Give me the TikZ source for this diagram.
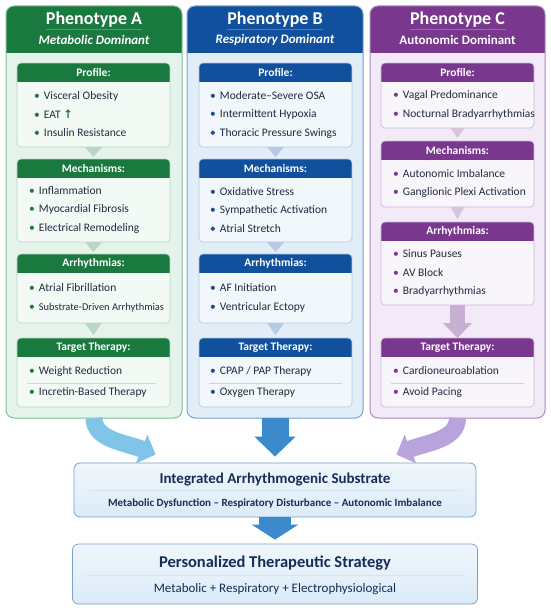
\documentclass[tikz,border=0pt]{standalone}
\usepackage{fontspec}
\setmainfont{Carlito}
\newfontfamily\symfont{DejaVu Sans}
\usetikzlibrary{arrows.meta,positioning}

\definecolor{grnA}{RGB}{26,121,62}
\definecolor{grnAbg}{RGB}{229,243,234}
\definecolor{grnAln}{RGB}{128,192,150}
\definecolor{bluB}{RGB}{17,80,156}
\definecolor{bluBbg}{RGB}{226,237,248}
\definecolor{bluBln}{RGB}{118,162,210}
\definecolor{purC}{RGB}{121,56,142}
\definecolor{purCbg}{RGB}{242,234,246}
\definecolor{purCln}{RGB}{172,134,192}
\definecolor{ink}{RGB}{33,42,62}
\definecolor{navy}{RGB}{24,44,88}
\definecolor{boxbl}{RGB}{220,235,248}
\definecolor{boxln}{RGB}{122,162,202}
\definecolor{arwA}{RGB}{128,196,232}
\definecolor{arwB}{RGB}{58,138,204}
\definecolor{arwC}{RGB}{184,164,218}

\newcommand{\bul}[1]{{\color{#1}\textbullet}\hspace{4pt}}

\begin{document}
\begin{tikzpicture}[x=1pt,y=-1pt,>=Stealth,
 panel/.style={draw=#1ln,fill=#1bg,rounded corners=8pt,line width=1pt,minimum width=176pt,minimum height=412pt,inner sep=0pt,outer sep=0pt,
  path picture={\fill[#1,sharp corners] (path picture bounding box.north west) rectangle ([yshift=-47pt]path picture bounding box.north east);}},
 sec/.style={draw=#1ln!60,fill=white!55!#1bg,rounded corners=4pt,line width=0.6pt,minimum width=153pt,inner sep=0pt,outer sep=0pt,
  path picture={\fill[#1,sharp corners] (path picture bounding box.north west) rectangle ([yshift=-19pt]path picture bounding box.north east);}},
 ttl/.style={font=\bfseries\fontsize{18}{20}\selectfont,text=white,inner sep=1pt},
 sub/.style={font=\bfseries\fontsize{13}{15}\selectfont,text=white,inner sep=1pt},
 hd/.style={font=\bfseries\fontsize{11.5}{13}\selectfont,text=white,inner sep=1pt},
 it/.style={font=\fontsize{11.5}{18.5}\selectfont,text=ink,align=left,anchor=west,inner sep=0pt},
 sepl/.style={draw=#1ln!45,line width=0.6pt},
 bigbox/.style={draw=boxln,top color=boxbl!45,bottom color=boxbl,rounded corners=6pt,line width=0.8pt,inner sep=0pt},
 btl/.style={font=\bfseries\fontsize{15}{17}\selectfont,text=navy,inner sep=1pt},
 fat/.style={-{Triangle[#1]},line cap=butt}]
 \fill[white] (0,0) rectangle (550,610);
 \useasboundingbox (0,0) rectangle (550,610);

 % phenotype A
 \node[panel=grnA] (pA) at (94,212) {};
 \node[ttl] (tA) at (94,20) {Phenotype A};
 \node[sub] (sA) at (94,39.5) {\itshape Metabolic Dominant};
 \draw[white,opacity=.25] ([xshift=-48pt,yshift=-23pt]pA.north) -- ([xshift=48pt,yshift=-23pt]pA.north);
 \node[sec=grnA,minimum height=84pt] (aP) at (93.5,105) {};
 \node[sec=grnA,minimum height=83pt,below=12pt of aP] (aM) {};
 \node[sec=grnA,minimum height=69pt,below=12pt of aM] (aR) {};
 \node[sec=grnA,minimum height=69pt,below=15pt of aR] (aT) {};
 \node[hd] (aPh) at ([yshift=-9.5pt]aP.north) {Profile:};
 \node[hd] (aMh) at ([yshift=-9.5pt]aM.north) {Mechanisms:};
 \node[hd] (aRh) at ([yshift=-9.5pt]aR.north) {Arrhythmias:};
 \node[hd] (aTh) at ([yshift=-9.5pt]aT.north) {Target Therapy:};
 \node[it] (aPi) at ([xshift=17pt,yshift=-9.5pt]aP.west) {\bul{grnA}Visceral Obesity\\ \bul{grnA}EAT {\color{grnA}\symfont\bfseries ↑}\\ \bul{grnA}Insulin Resistance};
 \node[it] (aMi) at ([xshift=12pt,yshift=-9.5pt]aM.west) {\bul{grnA}Inflammation\\ \bul{grnA}Myocardial Fibrosis\\ \bul{grnA}Electrical Remodeling};
 \node[it] (aRi) at ([xshift=12pt,yshift=-9.5pt]aR.west) {\bul{grnA}Atrial Fibrillation\\ \bul{grnA}{\fontsize{10.4}{12}\selectfont Substrate-Driven Arrhythmias}};
 \node[it] (aTi) at ([xshift=12pt,yshift=-9.5pt]aT.west) {\bul{grnA}Weight Reduction\\[2.5pt] \bul{grnA}Incretin-Based Therapy};
 \draw[sepl=grnA] ([xshift=10pt,yshift=-10.5pt]aT.west) -- ([xshift=-14pt,yshift=-10.5pt]aT.east);
 \fill[grnA!30] ([xshift=-8.5pt]aP.south) -- ([xshift=8.5pt]aP.south) -- ([yshift=2pt]aM.north) -- cycle;
 \fill[grnA!30] ([xshift=-8.5pt]aM.south) -- ([xshift=8.5pt]aM.south) -- ([yshift=2pt]aR.north) -- cycle;
 \fill[grnA!30] ([xshift=-8.5pt]aR.south) -- ([xshift=8.5pt]aR.south) -- ([yshift=3pt]aT.north) -- cycle;

 % phenotype B
 \node[panel=bluB] (pB) at (275,212) {};
 \node[ttl] (tB) at (275,20) {Phenotype B};
 \node[sub] (sB) at (275,39.5) {\itshape Respiratory Dominant};
 \draw[white,opacity=.25] ([xshift=-48pt,yshift=-23pt]pB.north) -- ([xshift=48pt,yshift=-23pt]pB.north);
 \node[sec=bluB,minimum height=84pt] (bP) at (275.5,105) {};
 \node[sec=bluB,minimum height=83pt,below=12pt of bP] (bM) {};
 \node[sec=bluB,minimum height=69pt,below=12pt of bM] (bR) {};
 \node[sec=bluB,minimum height=69pt,below=15pt of bR] (bT) {};
 \node[hd] (bPh) at ([yshift=-9.5pt]bP.north) {Profile:};
 \node[hd] (bMh) at ([yshift=-9.5pt]bM.north) {Mechanisms:};
 \node[hd] (bRh) at ([yshift=-9.5pt]bR.north) {Arrhythmias:};
 \node[hd] (bTh) at ([yshift=-9.5pt]bT.north) {Target Therapy:};
 \node[it] (bPi) at ([xshift=11pt,yshift=-9.5pt]bP.west) {\bul{bluB}Moderate–Severe OSA\\ \bul{bluB}Intermittent Hypoxia\\ \bul{bluB}Thoracic Pressure Swings};
 \node[it] (bMi) at ([xshift=11pt,yshift=-9.5pt]bM.west) {\bul{bluB}Oxidative Stress\\ \bul{bluB}Sympathetic Activation\\ \bul{bluB}Atrial Stretch};
 \node[it] (bRi) at ([xshift=11pt,yshift=-9.5pt]bR.west) {\bul{bluB}AF Initiation\\ \bul{bluB}Ventricular Ectopy};
 \node[it] (bTi) at ([xshift=11pt,yshift=-9.5pt]bT.west) {\bul{bluB}CPAP / PAP Therapy\\[2.5pt] \bul{bluB}Oxygen Therapy};
 \draw[sepl=bluB] ([xshift=10pt,yshift=-10.5pt]bT.west) -- ([xshift=-10pt,yshift=-10.5pt]bT.east);
 \fill[bluB!30] ([xshift=-8.5pt]bP.south) -- ([xshift=8.5pt]bP.south) -- ([yshift=2pt]bM.north) -- cycle;
 \fill[bluB!30] ([xshift=-8.5pt]bM.south) -- ([xshift=8.5pt]bM.south) -- ([yshift=2pt]bR.north) -- cycle;
 \fill[bluB!30] ([xshift=-8.5pt]bR.south) -- ([xshift=8.5pt]bR.south) -- ([yshift=3pt]bT.north) -- cycle;

 % phenotype C
 \node[panel=purC,minimum width=175pt] (pC) at (457.5,212) {};
 \node[ttl] (tC) at (457.5,20) {Phenotype C};
 \node[sub] (sC) at (457.5,39.5) {Autonomic Dominant};
 \draw[white,opacity=.25] ([xshift=-48pt,yshift=-23pt]pC.north) -- ([xshift=48pt,yshift=-23pt]pC.north);
 \node[sec=purC,minimum height=65pt] (cP) at (457.5,95.5) {};
 \node[sec=purC,minimum height=66pt,below=13pt of cP] (cM) {};
 \node[sec=purC,minimum height=83pt,below=15pt of cM] (cR) {};
 \node[sec=purC,minimum height=69pt,below=33pt of cR] (cT) {};
 \node[hd] (cPh) at ([yshift=-9.5pt]cP.north) {Profile:};
 \node[hd] (cMh) at ([yshift=-9.5pt]cM.north) {Mechanisms:};
 \node[hd] (cRh) at ([yshift=-9.5pt]cR.north) {Arrhythmias:};
 \node[hd] (cTh) at ([yshift=-9.5pt]cT.north) {Target Therapy:};
 \node[it] (cPi) at ([xshift=12pt,yshift=-9.5pt]cP.west) {\bul{purC}Vagal Predominance\\ \bul{purC}Nocturnal Bradyarrhythmias};
 \node[it] (cMi) at ([xshift=12pt,yshift=-9.5pt]cM.west) {\bul{purC}Autonomic Imbalance\\ \bul{purC}Ganglionic Plexi Activation};
 \node[it] (cRi) at ([xshift=12pt,yshift=-9.5pt]cR.west) {\bul{purC}Sinus Pauses\\ \bul{purC}AV Block\\ \bul{purC}Bradyarrhythmias};
 \node[it] (cTi) at ([xshift=12pt,yshift=-9.5pt]cT.west) {\bul{purC}Cardioneuroablation\\[2.5pt] \bul{purC}Avoid Pacing};
 \draw[sepl=purC] ([xshift=10pt,yshift=-10.5pt]cT.west) -- ([xshift=-10pt,yshift=-10.5pt]cT.east);
 \fill[purC!30] ([xshift=-7pt]cP.south) -- ([xshift=7pt]cP.south) -- ([yshift=3pt]cM.north) -- cycle;
 \fill[purC!30] ([xshift=-7pt]cM.south) -- ([xshift=7pt]cM.south) -- ([yshift=3pt]cR.north) -- cycle;
 \draw[fat={length=15pt,width=28pt},purC!40,line width=15pt] (cR.south) -- (cT.north);

 % integrated substrate and strategy
 \node[bigbox,minimum width=402pt,minimum height=54pt] (intg) at (275,490) {};
 \node[btl] (intgt) at ([yshift=10pt]intg.center) {Integrated Arrhythmogenic Substrate};
 \node[font=\bfseries\fontsize{11}{13}\selectfont,text=navy,inner sep=1pt] (intgs) at ([yshift=-13pt]intg.center) {Metabolic Dysfunction – Respiratory Disturbance – Autonomic Imbalance};
 \draw[white!70!boxln,line width=0.5pt] ([xshift=15pt]intg.west) -- ([xshift=-15pt]intg.east);
 \node[bigbox,minimum width=405pt,minimum height=60pt] (pers) at (275,574) {};
 \node[btl,font=\bfseries\fontsize{16.5}{18}\selectfont] (perst) at ([yshift=11pt]pers.center) {Personalized Therapeutic Strategy};
 \node[font=\fontsize{13}{15}\selectfont,text=navy,inner sep=1pt] (perss) at ([yshift=-15pt]pers.center) {Metabolic + Respiratory + Electrophysiological};
 \draw[white!70!boxln,line width=0.5pt] ([xshift=15pt,yshift=-1pt]pers.west) -- ([xshift=-15pt,yshift=-1pt]pers.east);

 \draw[fat={length=15pt,width=30pt},arwA,line width=17pt] (pA.south) .. controls +(0,22) and +(-30,-12) .. ([xshift=82pt,yshift=8pt]intg.north west);
 \draw[fat={length=20pt,width=40pt},arwB,line width=27pt] (pB.south) -- ([yshift=6pt]intg.north);
 \draw[fat={length=15pt,width=30pt},arwC,line width=17pt] (pC.south) .. controls +(0,22) and +(30,-12) .. ([xshift=-80pt,yshift=8pt]intg.north east);
 \draw[fat={length=15pt,width=46pt},arwB,line width=32pt] (intg.south) -- ([yshift=4pt]pers.north);
\end{tikzpicture}
\end{document}
